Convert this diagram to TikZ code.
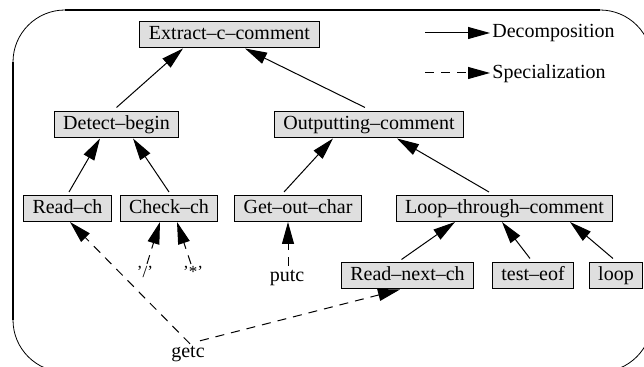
\documentclass[tikz,border=0pt]{standalone}
\usepackage{fontspec}
\setmainfont{Liberation Serif}
\usetikzlibrary{arrows.meta}

\begin{document}
\begin{tikzpicture}[x=.5pt,y=-.5pt,
  box/.style={draw,fill=gray!25,line width=.5pt,inner xsep=4.5pt,inner ysep=0pt,minimum height=13pt,text height=7pt,text depth=2pt,font=\fontsize{10}{12}\selectfont},
  lbl/.style={inner sep=0pt,font=\fontsize{10}{12}\selectfont},
  sml/.style={inner sep=0pt,font=\fontsize{8.5}{10}\selectfont},
  dec/.style={-{Triangle[length=11pt,width=6pt]},line width=.5pt},
  spc/.style={dec,dash pattern=on 4.5pt off 3.5pt}]
\useasboundingbox (0,0) rectangle (644,367);
\clip (0,0) rectangle (644,367);
% frame
\draw[line width=.4pt,rounded corners=26pt] (13,10) rectangle (652,372);
\draw[line width=1pt] (65,10)--(600,10);\draw[line width=1pt] (13,62)--(13,320);
% boxes
\node[box] (extract) at (229.5,35){Extract--c--comment};
\node[box] (detect) at (116.5,125){Detect--begin};\node[box] (outcom) at (369,125){Outputting--comment};
\node[box] (readch) at (67.5,208.5){Read--ch};\node[box] (checkch) at (169,208.5){Check--ch};
\node[box] (getout) at (298,208.5){Get--out--char};\node[box] (loopthr) at (504.5,208.5){Loop--through--comment};
\node[box] (readnext) at (407.5,276){Read--next--ch};\node[box] (testeof) at (533,276){test--eof};\node[box] (loopbox) at (616,276){loop};
% leaves
\node[sml] (slash) at (145,272){'/'};\node[sml] (star) at (193,272){'*'};
\node[lbl] (putc) at (287,278){putc};\node[lbl] (getc) at (188,354){getc};
% decomposition
\draw[dec] ([yshift=2pt]detect.north)--([xshift=-23.25pt]extract.south);
\draw[dec] ([xshift=-2pt,yshift=2pt]outcom.north)--([xshift=7.75pt]extract.south);
\draw[dec] ([xshift=.75pt,yshift=1.5pt]readch.north)--([xshift=-8.25pt]detect.south);
\draw[dec] ([yshift=1.5pt]checkch.north)--([xshift=8.25pt]detect.south);
\draw[dec] ([xshift=-7pt,yshift=1.5pt]getout.north)--([xshift=-18pt]outcom.south);
\draw[dec] ([xshift=-7.75pt,yshift=1.5pt]loopthr.north)--([xshift=14pt]outcom.south);
\draw[dec] ([xshift=-3pt,yshift=1.5pt]readnext.north)--([xshift=-24.75pt]loopthr.south);
\draw[dec] ([xshift=-1.5pt,yshift=2pt]testeof.north)--([xshift=-1.25pt]loopthr.south);
\draw[dec] ([xshift=-1.5pt,yshift=2pt]loopbox.north)--([xshift=32.75pt]loopthr.south);
% specialization
\draw[spc] ([xshift=1pt,yshift=1pt]slash.north)--([xshift=-4.5pt]checkch.south);
\draw[spc] ([xshift=-1pt,yshift=1pt]star.north)--([xshift=4pt]checkch.south);
\draw[spc] ([xshift=.5pt,yshift=2pt]putc.north)--([xshift=-5pt]getout.south);
\draw[spc] ([xshift=1pt,yshift=1pt]getc.north)--([xshift=1.25pt]readch.south);
\draw[spc] ([xshift=6pt,yshift=2.5pt]getc.north)--([xshift=-3.75pt]readnext.south);
% legend
\coordinate (decfrom) at (425,33);\node[lbl,anchor=west] (declbl) at (492,33){Decomposition};\draw[dec] (decfrom)--([xshift=-1pt]declbl.west);
\coordinate (spcfrom) at (425,73);\node[lbl,anchor=west] (spclbl) at (492,74){Specialization};\draw[spc] (spcfrom)--([xshift=-1pt,yshift=.5pt]spclbl.west);
\end{tikzpicture}
\end{document}
